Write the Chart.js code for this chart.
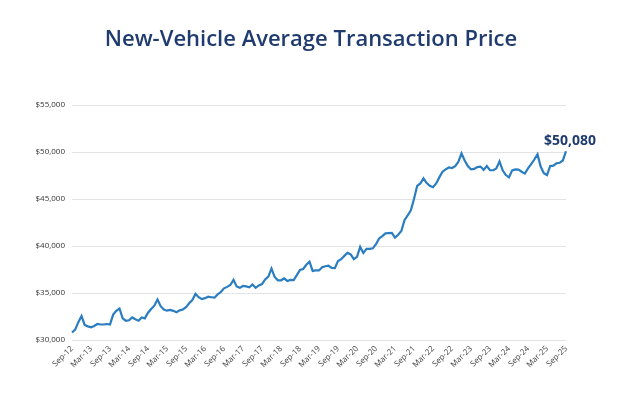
<!DOCTYPE html>
<html>
<head>
<meta charset="utf-8">
<script src="https://cdn.jsdelivr.net/npm/chart.js@4"></script>
<style>
  html, body { margin: 0; padding: 0; background: #fff; }
  #wrap { width: 622px; height: 395px; position: relative; }
</style>
</head>
<body>
<div id="wrap"><canvas id="grafico"></canvas></div>
<script>
// ========== dados ==========
const titulo = 'New-Vehicle Average Transaction Price';
const mesesAbrev = ['Jan','Feb','Mar','Apr','May','Jun','Jul','Aug','Sep','Oct','Nov','Dec'];
const tickLabels = ['Sep-12','Mar-13','Sep-13','Mar-14','Sep-14','Mar-15','Sep-15','Mar-16','Sep-16',
  'Mar-17','Sep-17','Mar-18','Sep-18','Mar-19','Sep-19','Mar-20','Sep-20','Mar-21','Sep-21',
  'Mar-22','Sep-22','Mar-23','Sep-23','Mar-24','Sep-24','Mar-25','Sep-25'];
const yTicks = [30000, 35000, 40000, 45000, 50000, 55000];

// preço médio mensal, Sep-12 .. Sep-25
const precos = [
  30800, 31100, 31900, 32550, 31600, 31450, 31350, 31500, 31700, 31650, 31650, 31700,
  31650, 32700, 33100, 33350, 32300, 32050, 32100, 32400, 32200, 32050, 32400, 32300,
  32900, 33300, 33650, 34300, 33600, 33250, 33120, 33200, 33100, 32950, 33150, 33250,
  33500, 33900, 34250, 34900, 34550, 34350, 34450, 34600, 34550, 34500, 34850, 35100,
  35500, 35650, 35850, 36400, 35700, 35550, 35750, 35700, 35600, 35900, 35550, 35800,
  35950, 36450, 36750, 37600, 36700, 36350, 36350, 36550, 36280, 36400, 36380, 36900,
  37450, 37550, 38000, 38330, 37350, 37400, 37400, 37750, 37850, 37900, 37660, 37650,
  38400, 38600, 38950, 39280, 39100, 38600, 38850, 39900, 39250, 39700, 39700, 39750,
  40200, 40800, 41050, 41350, 41380, 41400, 40900, 41200, 41600, 42750, 43250, 43800,
  45000, 46400, 46650, 47200, 46700, 46400, 46250, 46650, 47300, 47900, 48150, 48350,
  48300, 48500, 48950, 49850, 49100, 48500, 48150, 48200, 48400, 48450, 48100, 48500,
  48060, 48070, 48250, 49000, 48050, 47550, 47300, 48050, 48150, 48120, 47900, 47700,
  48250, 48700, 49200, 49750, 48450, 47750, 47550, 48500, 48550, 48800, 48850, 49100,
  50080
];
const rotuloFinal = '$50,080';

// categorias mensais a partir de Sep-12
const meses = precos.map((_, i) => {
  const m = (8 + i) % 12;
  const a = 12 + Math.floor((8 + i) / 12);
  return mesesAbrev[m] + '-' + a;
});

const corTitulo = '#1f3b6f';
const corLinha = '#2a7dc0';

// título centrado na página + rótulo do último valor
const textosPlugin = {
  id: 'textos',
  afterDraw(chart) {
    const ctx = chart.ctx;
    ctx.save();
    ctx.fillStyle = corTitulo;
    ctx.textAlign = 'center';
    ctx.textBaseline = 'middle';
    ctx.font = '600 22px "Open Sans"';
    ctx.fillText(titulo, chart.width / 2, 40);

    const meta = chart.getDatasetMeta(0);
    const pt = meta.data[meta.data.length - 1];
    ctx.font = 'bold 14px "Open Sans"';
    ctx.fillText(rotuloFinal, pt.x + 4, pt.y - 10);
    ctx.restore();
  }
};

new Chart(document.getElementById('grafico'), {
  type: 'line',
  data: {
    labels: meses,
    datasets: [{
      data: precos,
      borderColor: corLinha,
      borderWidth: 2.2,
      pointRadius: 0,
      tension: 0,
      fill: false
    }]
  },
  plugins: [textosPlugin],
  options: {
    responsive: true,
    maintainAspectRatio: false,
    animation: false,
    layout: { padding: { left: 0, right: 56, top: 105, bottom: 0 } },
    plugins: {
      legend: { display: false },
      tooltip: { enabled: false },
      title: { display: false }
    },
    scales: {
      x: {
        afterFit: s => { s.height = 55; },
        grid: { display: false, drawTicks: false },
        border: { display: false },
        ticks: {
          autoSkip: false,
          maxRotation: 45,
          minRotation: 45,
          padding: 4,
          color: '#444',
          font: { family: 'Open Sans', size: 8 },
          callback: function(v, i) {
            const l = meses[i];
            return tickLabels.includes(l) ? l : null;
          }
        }
      },
      y: {
        min: 30000,
        max: 55000,
        afterFit: s => { s.width = 72; },
        afterBuildTicks: s => { s.ticks = yTicks.map(v => ({ value: v })); },
        grid: { color: '#e3e3e3', drawTicks: false, lineWidth: 1 },
        border: { display: false },
        ticks: {
          padding: 7,
          color: '#333',
          font: { family: 'Open Sans', size: 8 },
          callback: v => '$' + v.toLocaleString('en-US')
        }
      }
    }
  }
});
</script>
</body>
</html>
